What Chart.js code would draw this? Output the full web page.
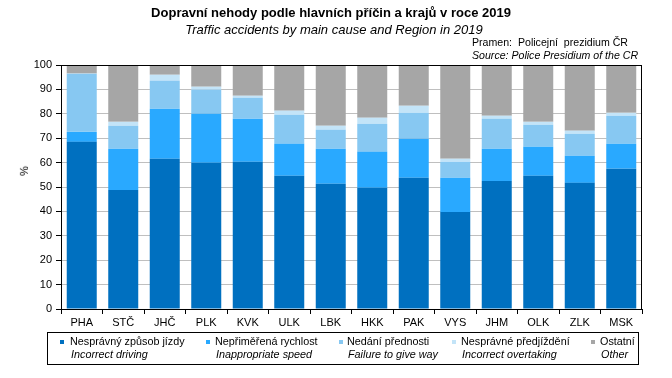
<!DOCTYPE html>
<html>
<head>
<meta charset="utf-8">
<script src="https://cdn.jsdelivr.net/npm/chart.js@4"></script>
<style>
  html, body { margin:0; padding:0; background:#fff; }
  #wrap { position:relative; width:672px; height:378px; overflow:hidden; font-family:'Liberation Sans', Arial, sans-serif; color:#000; }
  canvas { position:absolute; left:0; top:0; }
  .t { position:absolute; white-space:nowrap; }
  #title { left:81px; width:500px; top:5px; text-align:center; font-weight:bold; font-size:13px; }
  #subtitle { left:84px; width:500px; top:22px; text-align:center; font-style:italic; font-size:13px; }
  #src1 { left:472px; top:36px; font-size:10.6px; }
  #src2 { left:472px; top:49px; font-size:10.6px; font-style:italic; }
  #ytitle { left:19px; top:165px; font-size:11px; transform:rotate(-90deg); transform-origin:center; }
  #legend { position:absolute; left:47px; top:332px; width:590px; height:31px; border:1px solid #000; }
  .li { position:absolute; top:0; font-size:10.8px; line-height:13px; }
  .li .m { position:absolute; width:4px; height:4px; top:7px; }
  .li .a { position:absolute; top:2px; white-space:nowrap; }
  .li .b { position:absolute; top:15px; white-space:nowrap; font-style:italic; }
</style>
</head>
<body>
<div id="wrap">
  <canvas id="c" width="672" height="378"></canvas>
  <div class="t" id="title">Dopravní nehody podle hlavních příčin a krajů v roce 2019</div>
  <div class="t" id="subtitle">Traffic accidents by main cause and Region in 2019</div>
  <div class="t" id="src1">Pramen:&nbsp; Policejní&nbsp; prezidium ČR</div>
  <div class="t" id="src2">Source: Police Presidium of the CR</div>
  <div class="t" id="ytitle">%</div>
  <div id="legend"></div>
</div>
<script>
const categories = ['PHA','STČ','JHČ','PLK','KVK','ULK','LBK','HKK','PAK','VYS','JHM','OLK','ZLK','MSK'];
const incorrectDriving = [68.5,48.8,61.6,59.9,60.3,54.6,51.3,49.7,53.8,39.8,52.5,54.6,51.7,57.5];
const inappropriateSpeed = [4.1,16.9,20.5,20.1,17.7,13.1,14.4,14.7,16.0,14.0,13.2,11.9,11.1,10.2];
const failureToGiveWay = [23.8,9.4,11.5,9.9,8.6,11.9,7.8,11.5,10.6,6.5,12.3,9.0,9.0,11.5];
const incorrectOvertaking = [0.1,1.6,2.4,1.2,0.8,1.7,1.6,2.5,2.9,1.3,1.2,1.2,1.3,1.2];
const other = [3.5,23.3,4.0,8.9,12.6,18.7,24.9,21.6,16.7,38.4,20.8,23.3,26.9,19.6];
const yTicks = [0,10,20,30,40,50,60,70,80,90,100];

const seriesNamesCz = ['Nesprávný způsob jízdy','Nepřiměřená rychlost','Nedání přednosti','Nesprávné předjíždění','Ostatní'];
const seriesNamesEn = ['Incorrect driving','Inappropriate speed','Failure to give way','Incorrect overtaking','Other'];
const seriesColors = ['#0070C0','#29A9FF','#87C8F2','#C3E4F8','#A6A6A6'];
const seriesData = [incorrectDriving, inappropriateSpeed, failureToGiveWay, incorrectOvertaking, other];

// legend (HTML)
const legendPos = [[12,22],[158,167],[291,299],[404,413],[543,552]];
const leg = document.getElementById('legend');
seriesNamesCz.forEach((n,i)=>{
  const d = document.createElement('div');
  d.className='li';
  d.style.left = legendPos[i][0]+'px';
  d.innerHTML = '<div class="m" style="left:0;background:'+seriesColors[i]+'"></div>'+
    '<div class="a" style="left:'+(legendPos[i][1]-legendPos[i][0])+'px">'+n+'</div>'+
    '<div class="b" style="left:'+(legendPos[i][1]-legendPos[i][0]+1)+'px">'+seriesNamesEn[i]+'</div>';
  leg.appendChild(d);
});

const frame = {
  id:'frame',
  afterDraw(chart){
    const {ctx, chartArea:a} = chart;
    ctx.save();
    ctx.strokeStyle='#000';
    ctx.lineWidth=1;
    ctx.strokeRect(Math.round(a.left)+0.5, Math.round(a.top)+0.5, Math.round(a.right-a.left)-1, Math.round(a.bottom-a.top));
    ctx.restore();
  }
};

new Chart(document.getElementById('c'), {
  type:'bar',
  data:{
    labels: categories,
    datasets: seriesData.map((d,i)=>({
      label: seriesNamesCz[i],
      data: d,
      backgroundColor: seriesColors[i],
      borderWidth: 0,
      barPercentage: 0.723,
      categoryPercentage: 1.0
    }))
  },
  options:{
    responsive:false,
    animation:false,
    devicePixelRatio:1,
    layout:{ padding:{ left:0, right:30, top:65, bottom:49 } },
    plugins:{ legend:{display:false}, title:{display:false}, tooltip:{enabled:false} },
    scales:{
      x:{
        stacked:true,
        grid:{ display:true, drawOnChartArea:false, drawTicks:true, tickLength:5, color:'#000', offset:true },
        border:{ display:true, color:'#000' },
        ticks:{ color:'#000', font:{ family:"'Liberation Sans', Arial, sans-serif", size:11 }, padding:2, maxRotation:0 },
        afterFit(s){ s.height = 20; }
      },
      y:{
        stacked:true,
        min:0, max:100,
        afterBuildTicks(s){ s.ticks = yTicks.map(v=>({value:v})); },
        grid:{ color:'#BFBFBF', tickColor:'#000', tickLength:5, drawTicks:true },
        border:{ display:true, color:'#000' },
        ticks:{ color:'#000', font:{ family:"'Liberation Sans', Arial, sans-serif", size:11 }, padding:4 },
        afterFit(s){ s.width = 61; }
      }
    }
  },
  plugins:[frame]
});
</script>
</body>
</html>
